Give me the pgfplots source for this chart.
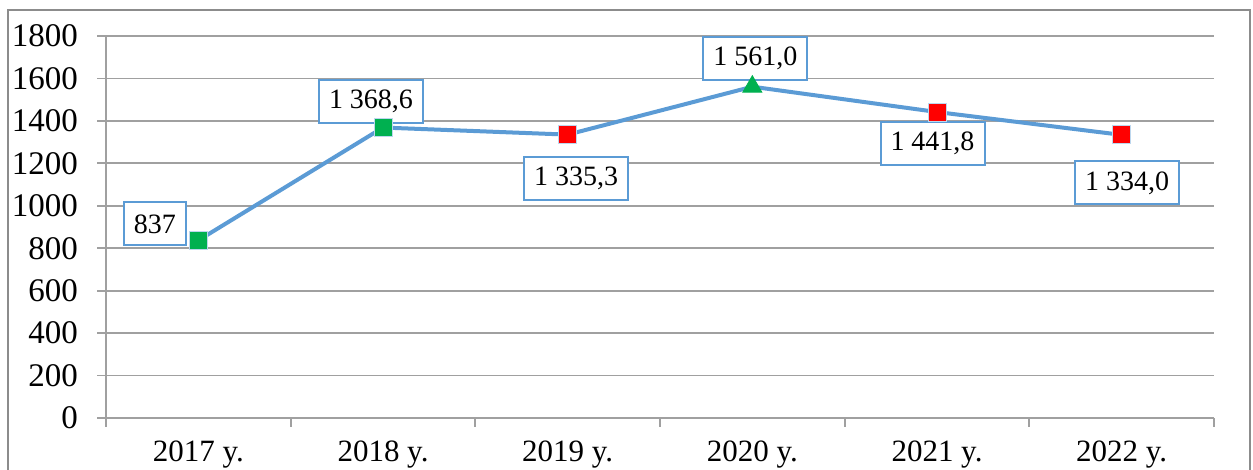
\documentclass[border=0pt]{standalone}
\usepackage{fontspec}
\setmainfont{Liberation Serif}
\usepackage{pgfplots}
\pgfplotsset{compat=1.18}
\definecolor{lineblue}{HTML}{5B9BD5}
\definecolor{mgreen}{HTML}{00B050}
\definecolor{gridgray}{HTML}{A0A0A0}
\definecolor{framegray}{HTML}{8C8C8C}
\begin{document}
\begin{tikzpicture}
\path[use as bounding box] (-53pt,-26pt) rectangle (573.5pt,209pt);
\draw[framegray, line width=0.75pt] (-49pt,-30pt) -- (-49pt,204pt) -- (572pt,204pt) -- (572pt,-30pt);
\begin{axis}[at={(0,0)}, anchor=south west, scale only axis, width=554pt, height=191pt,
 xmin=-0.5, xmax=5.5, ymin=0, ymax=1800, ytick={0,200,...,1800},
 xtick={-0.5,0.5,...,5.5}, xticklabels={},
 extra x ticks={0,1,2,3,4,5},
 extra x tick labels={2017 y.,2018 y.,2019 y.,2020 y.,2021 y.,2022 y.},
 extra x tick style={major tick length=0pt, grid=none},
 ymajorgrids, grid style={gridgray, line width=0.85pt},
 axis x line*=bottom, axis y line*=left, axis line style={gridgray, line width=0.85pt, -},
 tick align=outside, major tick length=4.5pt, tick style={gridgray, line width=0.85pt},
 x tick label style={font=\fontsize{15.5}{18}\selectfont, yshift=-8pt},
 y tick label style={font=\fontsize{16.5}{18}\selectfont, xshift=-6pt, /pgf/number format/1000 sep={}},
 /pgf/number format/assume math mode=true,
 clip=false]
\addplot[lineblue, line width=2pt, mark=none] coordinates {(0,837) (1,1368.6) (2,1335.3) (3,1561.0) (4,1441.8) (5,1334.0)};
\addplot[only marks, mark=square*, mark size=4.5pt, mgreen, mark options={draw=lineblue!40, line width=0.4pt}] coordinates {(0,837) (1,1368.6)};
\addplot[only marks, mark=square*, mark size=4.5pt, red, mark options={draw=lineblue!40, line width=0.4pt}] coordinates {(2,1335.3) (4,1441.8) (5,1334.0)};
\addplot[only marks, mark=triangle*, mark size=5.5pt, mgreen] coordinates {(3,1561.0)};
\tikzset{lbl/.style={draw=lineblue, line width=1pt, fill=white, font=\fontsize{14}{16}\selectfont, inner xsep=5pt, inner ysep=0pt, minimum height=21.5pt}}
\node[lbl] at ([shift={(-21.75pt,8.25pt)}]axis cs:0,837) {837};
\node[lbl] at ([shift={(-6pt,13pt)}]axis cs:1,1368.6) {1 368,6};
\node[lbl] at ([shift={(4.25pt,-22pt)}]axis cs:2,1335.3) {1 335,3};
\node[lbl] at ([shift={(1.5pt,14.25pt)}]axis cs:3,1561.0) {1 561,0};
\node[lbl] at ([shift={(-2.25pt,-15.5pt)}]axis cs:4,1441.8) {1 441,8};
\node[lbl] at ([shift={(2.75pt,-24pt)}]axis cs:5,1334.0) {1 334,0};
\end{axis}
\end{tikzpicture}
\end{document}
